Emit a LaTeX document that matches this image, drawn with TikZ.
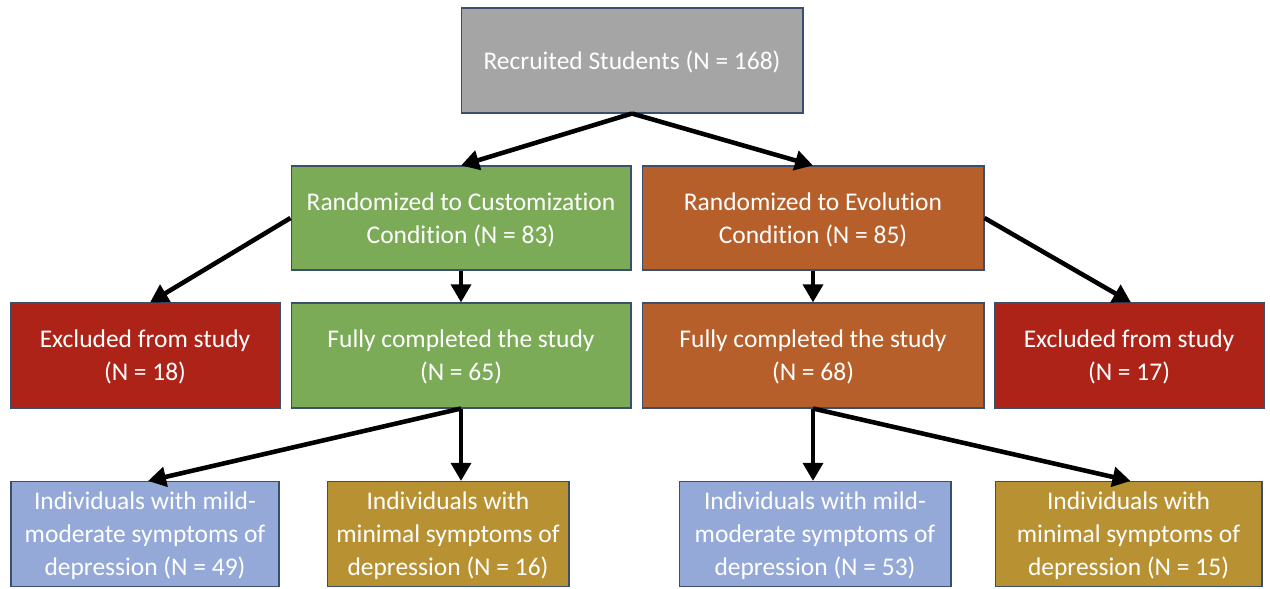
\documentclass[tikz,border=0pt]{standalone}
\usepackage{fontspec}
\setmainfont{Carlito}[Ligatures=NoCommon]
\usepackage{xcolor}
\usetikzlibrary{arrows.meta,positioning}
\definecolor{edge}{HTML}{3A4E6E}
\definecolor{grayfill}{HTML}{A5A5A5}
\definecolor{greenfill}{HTML}{7BAB56}
\definecolor{orangefill}{HTML}{B65F2A}
\definecolor{redfill}{HTML}{AE2318}
\definecolor{bluefill}{HTML}{95A9D8}
\definecolor{goldfill}{HTML}{B89232}
\tikzset{box/.style={draw=edge,line width=0.6pt,text=white,align=center,
  inner sep=2pt,text depth=0pt,font=\fontsize{14.5}{18.8}\selectfont},
  arrow/.style={-{Triangle[length=3.6mm,width=3.9mm]},line width=2.6pt,draw=black}}

\begin{document}
\begin{tikzpicture}[x=0.02cm,y=-0.02cm]
\useasboundingbox (0,0) rectangle (1270,588);
\node[box,fill=grayfill,minimum width=6.84cm,minimum height=2.1cm] (recruited) at (632,60.5) {Recruited Students (N = 168)};
\node[box,fill=greenfill,minimum width=6.8cm,minimum height=2.08cm] (custom) at (461,218) {Randomized to Customization\\Condition (N = 83)};
\node[box,fill=orangefill,minimum width=6.84cm,minimum height=2.08cm] (evol) at (813,218) {Randomized to Evolution\\Condition (N = 85)};
\node[box,fill=redfill,minimum width=5.4cm,minimum height=2.1cm] (exclL) at (145,355.5) {Excluded from study\\(N = 18)};
\node[box,fill=greenfill,minimum width=6.8cm,minimum height=2.1cm] (fullL) at (461,355.5) {Fully completed the study\\(N = 65)};
\node[box,fill=orangefill,minimum width=6.84cm,minimum height=2.1cm] (fullR) at (813,355.5) {Fully completed the study\\(N = 68)};
\node[box,fill=redfill,minimum width=5.4cm,minimum height=2.1cm] (exclR) at (1129,355.5) {Excluded from study\\(N = 17)};
\node[box,fill=bluefill,minimum width=5.36cm,minimum height=2.1cm] (mildL) at (145,534) {Individuals with mild-\\moderate symptoms of\\depression (N = 49)};
\node[box,fill=goldfill,minimum width=4.84cm,minimum height=2.1cm] (minL) at (448,534) {Individuals with\\minimal symptoms of\\depression (N = 16)};
\node[box,fill=bluefill,minimum width=5.44cm,minimum height=2.1cm] (mildR) at (815,534) {Individuals with mild-\\moderate symptoms of\\depression (N = 53)};
\node[box,fill=goldfill,minimum width=5.34cm,minimum height=2.1cm] (minR) at (1128.5,534) {Individuals with\\minimal symptoms of\\depression (N = 15)};
\draw[arrow] (recruited.south) -- (custom.north);
\draw[arrow] (recruited.south) -- (evol.north);
\draw[arrow] (custom.west) -- ([xshift=0.1cm]exclL.north);
\draw[arrow] (custom.south) -- (fullL.north);
\draw[arrow] (evol.south) -- (fullR.north);
\draw[arrow] (evol.east) -- ([xshift=0.04cm]exclR.north);
\draw[arrow] (fullL.south) -- ([xshift=0.06cm]mildL.north);
\draw[arrow] (fullL.south) -- (fullL.south |- minL.north);
\draw[arrow] (fullR.south) -- (fullR.south |- mildR.north);
\draw[arrow] (fullR.south) -- ([xshift=0.04cm]minR.north);
\end{tikzpicture}
\end{document}
